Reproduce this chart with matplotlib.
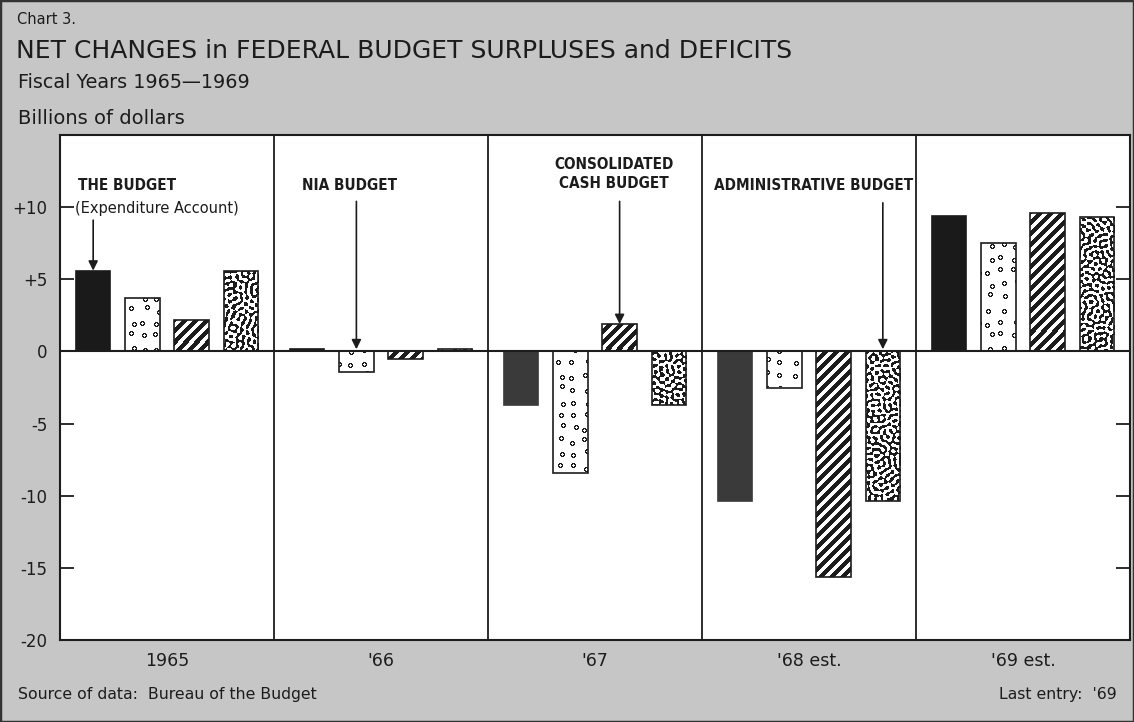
import numpy as np
import matplotlib
matplotlib.use("Agg")
import matplotlib.pyplot as plt
from matplotlib.colors import ListedColormap
from matplotlib.patches import Rectangle

# fiscal years and net changes (billions of dollars)
years = ["1965", "'66", "'67", "'68 est.", "'69 est."]
expenditure = [5.6, 0.2, -3.7, -10.4, 9.4]   # the budget (expenditure account)
nia = [3.7, -1.4, -8.4, -2.5, 7.5]            # NIA budget
cash = [2.2, -0.5, 1.9, -15.6, 9.6]           # consolidated cash budget
admin = [5.6, 0.2, -3.7, -10.4, 9.3]          # administrative budget
yticks = [-20, -15, -10, -5, 0, 5, 10]
ytick_labels = ["-20", "-15", "-10", "-5", "0", "+5", "+10"]

plt.rcParams["font.family"] = ["DejaVu Sans"]
BG = "#c6c6c6"
INK = "#1c1c1c"
solid_colors = ["#1a1a1a", "#1a1a1a", "#3a3a3a", "#3a3a3a", "#1a1a1a"]

W, H = 1134, 722
fig = plt.figure(figsize=(W / 100, H / 100), dpi=100, facecolor=BG)
ax = fig.add_axes([60 / W, 1 - 640 / H, 1070 / W, 505 / H])
ax.set_xlim(-0.5, 4.5)
ax.set_ylim(-20, 15)

x = np.arange(len(years))
offsets = [-0.345, -0.115, 0.115, 0.345]
bw = 0.16

b_exp = ax.bar(x + offsets[0], expenditure, bw, color=solid_colors,
               edgecolor=solid_colors, lw=1.2, zorder=3)
b_nia = ax.bar(x + offsets[1], nia, bw, facecolor="none", edgecolor=INK, lw=1.2, zorder=4)
b_cash = ax.bar(x + offsets[2], cash, bw, facecolor="none", edgecolor=INK, lw=1.2, zorder=4)
b_adm = ax.bar(x + offsets[3], admin, bw, facecolor="none", edgecolor=INK, lw=1.2, zorder=4)

# pixel textures for the patterned bars
th, tw = 505, 1070
rows, cols = np.mgrid[0:th, 0:tw]
stripes = ((rows + cols) % 11) < 6

rng = np.random.default_rng(11)
noise = np.fft.fft2(rng.standard_normal((th, tw)))
fy = np.fft.fftfreq(th)[:, None]
fx = np.fft.fftfreq(tw)[None, :]
band = np.exp(-((np.hypot(fx, fy) - 1 / 5.5) / 0.012) ** 2)
mottle = np.real(np.fft.ifft2(noise * band))
mottle = mottle > 0.1 * mottle.std()

ring = np.array([[0, 1, 1, 1, 0],
                 [1, 1, 0, 1, 1],
                 [1, 0, 0, 0, 1],
                 [1, 1, 0, 1, 1],
                 [0, 1, 1, 1, 0]], dtype=bool)
dots = np.zeros((th, tw), dtype=bool)
step = 13
for r0 in range(2, th - 10, step):
    for c0 in range(2, tw - 10, step):
        r = r0 + rng.integers(0, 6)
        c = c0 + rng.integers(0, 6)
        dots[r:r + 5, c:c + 5] |= ring

cmap = ListedColormap(["white", INK])
for bars, tex in [(b_nia, dots), (b_cash, stripes), (b_adm, mottle)]:
    for b in bars:
        im = ax.imshow(tex.astype(float), cmap=cmap, vmin=0, vmax=1,
                       extent=(-0.5, 4.5, -20, 15), aspect="auto",
                       interpolation="nearest", zorder=3.5)
        im.set_clip_path(b)

# frame, zero line, year dividers
ax.axhline(0, color=INK, lw=1.5, zorder=5)
for d in [0.5, 1.5, 2.5, 3.5]:
    ax.axvline(d, color=INK, lw=1.3, zorder=5)
for s in ax.spines.values():
    s.set_color(INK)
    s.set_linewidth(1.5)

ax.set_yticks(yticks)
ax.set_yticklabels(ytick_labels, fontsize=12, color=INK)
ax.tick_params(axis="y", direction="in", length=10, width=1.3, right=True,
               pad=9, color=INK)
ax.set_xticks(x)
ax.set_xticklabels(years, fontsize=12.5, color=INK)
ax.tick_params(axis="x", length=0, pad=9)

# series labels with arrows
lab = dict(fontsize=11, fontweight="bold", fontstretch="condensed",
           family="DejaVu Sans", color=INK, zorder=6)
ax.text(-0.416, 11.5, "THE BUDGET", ha="left", va="center", **lab)
ax.text(-0.43, 9.9, "(Expenditure Account)", ha="left", va="center",
        fontsize=10.5, color=INK, zorder=6)
ax.text(0.855, 11.5, "NIA BUDGET", ha="center", va="center", **lab)
ax.text(2.09, 12.3, "CONSOLIDATED\nCASH BUDGET", ha="center", va="center",
        linespacing=1.3, **lab)
ax.text(3.02, 11.5, "ADMINISTRATIVE BUDGET", ha="center", va="center", **lab)

arrow = dict(arrowstyle="-|>", color=INK, lw=1.2, mutation_scale=14,
             shrinkA=0, shrinkB=0)
ax.annotate("", xy=(x[0] + offsets[0], expenditure[0]), xytext=(x[0] + offsets[0], 9.1),
            arrowprops=arrow, zorder=6)
ax.annotate("", xy=(x[1] + offsets[1], 0.15), xytext=(x[1] + offsets[1], 10.4),
            arrowprops=arrow, zorder=6)
ax.annotate("", xy=(x[2] + offsets[2], cash[2]), xytext=(x[2] + offsets[2], 10.4),
            arrowprops=arrow, zorder=6)
ax.annotate("", xy=(x[3] + offsets[3], 0.15), xytext=(x[3] + offsets[3], 10.3),
            arrowprops=arrow, zorder=6)

# titles and notes
def ftext(px, py, s, **kw):
    fig.text(px / W, 1 - py / H, s, color=INK, va="center", **kw)

ftext(17, 19, "Chart 3.", fontsize=10.5)
ftext(16, 51, "NET CHANGES in FEDERAL BUDGET SURPLUSES and DEFICITS", fontsize=18)
ftext(18, 82, "Fiscal Years 1965\u20141969", fontsize=13.8)
ftext(18, 118, "Billions of dollars", fontsize=14)
ftext(18, 694, "Source of data:  Bureau of the Budget", fontsize=11.3)
ftext(1117, 694, "Last entry:  '69", fontsize=11.3, ha="right")

fig.patches.append(Rectangle((0, 0), 1, 1, transform=fig.transFigure,
                             fill=False, edgecolor="#333333", lw=2.5))

fig.savefig("out.png", dpi=100, facecolor=BG)
